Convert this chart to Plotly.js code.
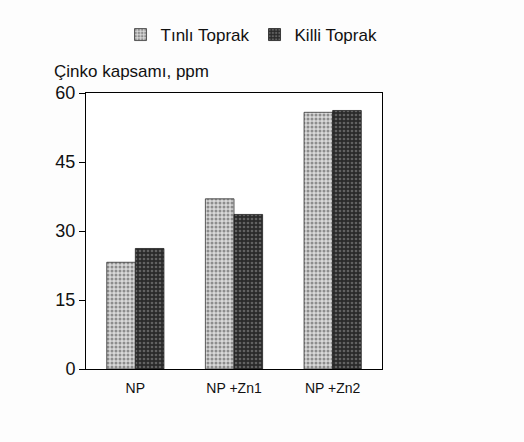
<!DOCTYPE html>
<html>
<head>
<meta charset="utf-8">
<script src="https://cdn.plot.ly/plotly-3.0.1.min.js"></script>
<style>html,body{margin:0;padding:0;background:#fff;}#chart{width:524px;height:442px;}</style>
</head>
<body>
<div id="chart"></div>
<script>
const categories = ["NP", "NP +Zn1", "NP +Zn2"];
const tinliValues = [23.2, 37.0, 55.8];
const killiValues = [26.2, 33.6, 56.2];
const seriesNames = ["Tınlı Toprak", "Killi Toprak"];
const yTicks = [0, 15, 30, 45, 60];

const traces = [
  {
    type: "bar", name: seriesNames[0], x: categories, y: tinliValues,
    marker: {color: "#b0b0b0", line: {color: "#333", width: 0.8},
      pattern: {shape: ".", bgcolor: "#d8d8d8", fgcolor: "#404040", size: 4, solidity: 0.45, fillmode: "overlay"}}
  },
  {
    type: "bar", name: seriesNames[1], x: categories, y: killiValues,
    marker: {color: "#333", line: {color: "#222", width: 0.8},
      pattern: {shape: ".", bgcolor: "#2a2a2a", fgcolor: "#9a9a9a", size: 4, solidity: 0.35, fillmode: "overlay"}}
  }
];

const layout = {
  width: 524, height: 442,
  paper_bgcolor: "#fdfdfd", plot_bgcolor: "#ffffff",
  margin: {l: 86, r: 142, t: 93, b: 73, autoexpand: false},
  bargap: 0.42, bargroupgap: 0,
  font: {family: "Liberation Sans, Arial, sans-serif", color: "#111"},
  showlegend: true,
  legend: {orientation: "h", xref: "container", yref: "container", x: 0.48, xanchor: "center",
    y: 1 - 35 / 442, yanchor: "middle",
    font: {size: 17}, itemwidth: 30, traceorder: "normal", bgcolor: "rgba(0,0,0,0)"},
  xaxis: {showline: true, mirror: true, linecolor: "#000", linewidth: 1, ticks: "",
    tickfont: {size: 14}, ticklabelstandoff: 6, fixedrange: true},
  yaxis: {range: [0, 60], tickvals: yTicks, showline: true, mirror: true, linecolor: "#000",
    linewidth: 1, ticks: "outside", ticklen: 6, tickcolor: "#000", showgrid: false,
    zeroline: false, tickfont: {size: 18}, fixedrange: true},
  annotations: [{text: "Çinko kapsamı, ppm", xref: "paper", yref: "paper", x: -0.115, y: 1.035,
    xanchor: "left", yanchor: "bottom", showarrow: false, font: {size: 17}}]
};

Plotly.newPlot("chart", traces, layout, {displayModeBar: false, staticPlot: true});
</script>
</body>
</html>
